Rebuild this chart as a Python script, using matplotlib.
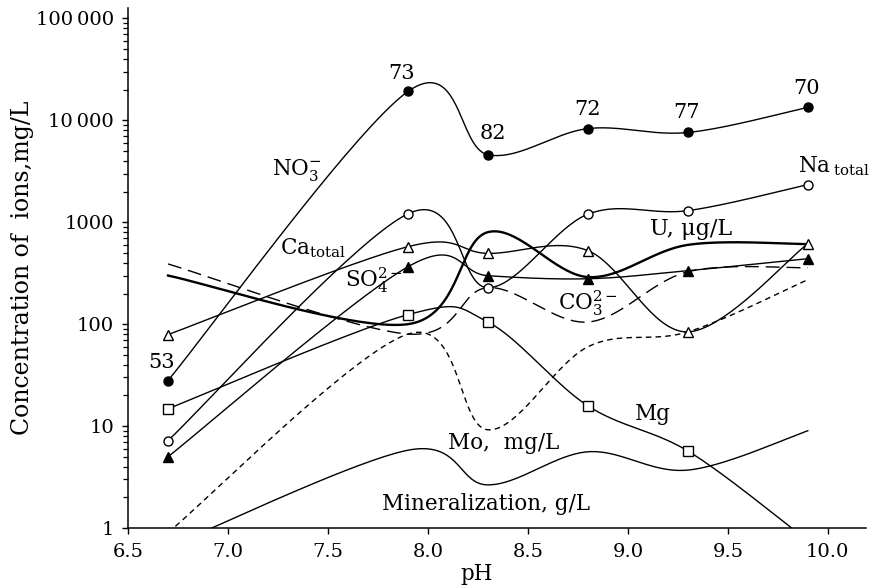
import numpy as np
import matplotlib
matplotlib.use("Agg")
import matplotlib.pyplot as plt
from matplotlib.ticker import FixedLocator, LogLocator, NullFormatter

plt.rcParams['font.family'] = ['DejaVu Serif']
plt.rcParams['mathtext.fontset'] = 'dejavuserif'
plt.rcParams['font.size'] = 14

# sampling points (pH)
ph = [6.7, 7.9, 8.3, 8.8, 9.3, 9.9]

# concentrations
no3 = [28, 19200, 4600, 8300, 7600, 13400]
no3_counts = ['53', '73', '82', '72', '77', '70']
na_total = [7.2, 1210, 228, 1200, 1300, 2340]
ca_total = [79, 576, 495, 527, 84, 616]
so4 = [5.0, 366, 299, 279, 335, 439]
mg = [14.8, 124, 105, 15.8, 5.7]
mg_tail_ph = 9.85
mg_tail = 0.9
u_ugl = [300, 100, 800, 290, 600, 610]
co3 = [390, 80, 228, 105, 327, 358]
mo = [0.9, 80, 9.2, 60, 84, 273]
mineral = [0.65, 5.8, 2.65, 5.6, 3.7, 9.0]

x_ticks = [6.5, 7.0, 7.5, 8.0, 8.5, 9.0, 9.5, 10.0]
y_ticks = [1, 10, 100, 1000, 10000, 100000]
y_ticklabels = ['1', '10', '100', '1000', '10\u2009000', '100\u2009000']


def smooth(x, y, n=40):
    # bezier smoothing (excel style) in x / log10(y) space
    p = np.column_stack([x, np.log10(y)])
    pts = np.vstack([p[0], p, p[-1]])
    t = np.linspace(0, 1, n)[:, None]
    out = []
    for i in range(1, len(pts) - 2):
        p0, p1, p2, p3 = pts[i - 1], pts[i], pts[i + 1], pts[i + 2]
        c1 = p1 + (p2 - p0) / 6
        c2 = p2 - (p3 - p1) / 6
        seg = (1 - t) ** 3 * p1 + 3 * (1 - t) ** 2 * t * c1 + 3 * (1 - t) * t ** 2 * c2 + t ** 3 * p2
        out.append(seg if i == 1 else seg[1:])
    out = np.vstack(out)
    return out[:, 0], 10 ** out[:, 1]


fig = plt.figure(figsize=(8.71, 5.88), dpi=100)
ax = fig.add_axes([0.147, 0.102, 0.847, 0.884])
ax.set_yscale('log')

lw = 1.0
mk = dict(markersize=6.5, markeredgewidth=1.0, markeredgecolor='black')

# smoothed curves
ax.plot(*smooth(ph, no3), color='black', lw=lw)
ax.plot(*smooth(ph, na_total), color='black', lw=lw)
ax.plot(*smooth(ph, ca_total), color='black', lw=lw)
ax.plot(*smooth(ph, so4), color='black', lw=lw)
ax.plot(*smooth(ph[:5] + [mg_tail_ph], mg + [mg_tail]), color='black', lw=lw)
ax.plot(*smooth(ph, u_ugl), color='black', lw=1.7)
ax.plot(*smooth(ph, co3), color='black', lw=1.0, dashes=(10, 5))
ax.plot(*smooth(ph, mo), color='black', lw=1.0, dashes=(4, 3))
ax.plot(*smooth(ph, mineral), color='black', lw=lw)

# markers
ax.plot(ph, no3, 'o', color='black', **mk)
ax.plot(ph, na_total, 'o', markerfacecolor='white', **mk)
ax.plot(ph, ca_total, '^', markerfacecolor='white', **mk)
ax.plot(ph, so4, '^', color='black', **mk)
ax.plot(ph[:5], mg, 's', markerfacecolor='white', **mk)

# sample numbers above NO3 points
num_pos = [(6.67, 37), (7.87, 25200), (8.325, 6500), (8.8, 11400), (9.295, 10650), (9.895, 18300)]
for lab, (xp, yp) in zip(no3_counts, num_pos):
    ax.text(xp, yp, lab, ha='center', va='baseline', fontsize=15)

# curve labels
fs = 15.5
ax.text(7.22, 2940, r'NO$_3^{-}$', va='baseline', fontsize=fs)
ax.text(7.26, 481, r'Ca$_{\mathrm{total}}$', va='baseline', fontsize=fs)
ax.text(7.585, 233, r'SO$_4^{2-}$', va='baseline', fontsize=fs)
ax.text(8.65, 138, r'CO$_3^{2-}$', va='baseline', fontsize=fs)
ax.text(9.11, 755, 'U, \u03bcg/L', va='baseline', fontsize=16)
ax.text(9.85, 3070, r'Na$\,_{\mathrm{total}}$', va='baseline', fontsize=fs)
ax.text(9.035, 11.5, 'Mg', va='baseline', fontsize=fs)
ax.text(8.1, 5.97, 'Mo,  mg/L', va='baseline', fontsize=fs)
ax.text(7.77, 1.50, 'Mineralization, g/L', va='baseline', fontsize=fs)

ax.set_xlim(6.5, 10.19)
ax.set_ylim(1, 10 ** 5.1)
ax.xaxis.set_major_locator(FixedLocator(x_ticks))
ax.set_xticklabels([f'{v:.1f}' for v in x_ticks])
ax.yaxis.set_major_locator(FixedLocator(y_ticks))
ax.set_yticklabels(y_ticklabels)
ax.yaxis.set_minor_locator(LogLocator(base=10, subs=np.arange(2, 10), numticks=20))
ax.yaxis.set_minor_formatter(NullFormatter())

for side in ['top', 'right']:
    ax.spines[side].set_visible(False)
for side in ['left', 'bottom']:
    ax.spines[side].set_linewidth(1.1)
ax.tick_params(which='major', direction='out', length=4.5, width=1.0)
ax.tick_params(axis='y', which='major', pad=5.5)
ax.tick_params(axis='x', which='major', pad=6)
ax.tick_params(which='minor', direction='out', length=3.5, width=0.9)

ax.set_xlabel('pH', fontsize=15.5)
ax.xaxis.set_label_coords(0.473, -0.068)
ax.set_ylabel('Concentration of  ions,mg/L', fontsize=17)
ax.yaxis.set_label_coords(-0.128, 0.5)

fig.savefig('out.png', dpi=100)
